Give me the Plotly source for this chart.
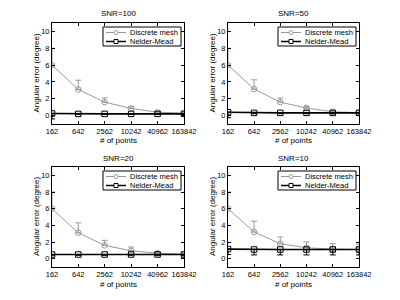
import math
import plotly.graph_objects as go

points = [162, 642, 2562, 10242, 40962, 163842]
tick_labels = ["162", "642", "2562", "10242", "40962", "163842"]
snr_titles = ["SNR=100", "SNR=50", "SNR=20", "SNR=10"]
series_names = ["Discrete mesh", "Nelder-Mead"]

dm_100 = [6.0, 3.1, 1.6, 0.85, 0.4, 0.3]
dm_100_err = [2.0, 1.1, 0.5, 0.2, 0.1, 0.05]
nm_100 = [0.25, 0.2, 0.2, 0.2, 0.2, 0.2]
nm_100_err = [0.65, 0.05, 0.05, 0.05, 0.05, 0.05]

dm_50 = [6.0, 3.15, 1.6, 0.9, 0.45, 0.35]
dm_50_err = [2.0, 1.1, 0.5, 0.2, 0.1, 0.05]
nm_50 = [0.4, 0.32, 0.32, 0.32, 0.32, 0.32]
nm_50_err = [0.65, 0.1, 0.1, 0.1, 0.1, 0.1]

dm_20 = [6.0, 3.1, 1.6, 0.95, 0.65, 0.55]
dm_20_err = [2.0, 1.2, 0.6, 0.45, 0.2, 0.1]
nm_20 = [0.5, 0.5, 0.5, 0.5, 0.5, 0.5]
nm_20_err = [0.1, 0.1, 0.1, 0.1, 0.1, 0.1]

dm_10 = [6.0, 3.2, 1.8, 1.3, 1.15, 1.1]
dm_10_err = [2.0, 1.3, 0.8, 0.7, 0.65, 0.65]
nm_10 = [1.15, 1.1, 1.1, 1.1, 1.1, 1.1]
nm_10_err = [0.65, 0.65, 0.65, 0.65, 0.65, 0.65]

panels = [
    (dm_100, dm_100_err, nm_100, nm_100_err),
    (dm_50, dm_50_err, nm_50, nm_50_err),
    (dm_20, dm_20_err, nm_20, nm_20_err),
    (dm_10, dm_10_err, nm_10, nm_10_err),
]

# The page body has an 8px margin; the figure is sized to fit inside it.
OFF = 8
W, H = 384, 284
# pixel boxes in window coordinates: (left, right, top, bottom)
boxes = [(52, 184, 23, 124), (228, 359, 23, 124), (52, 184, 167, 267), (228, 359, 167, 267)]

FONT = "Liberation Sans, Arial, sans-serif"
GRAY = "#9a9a9a"
COLORS = [GRAY, "black"]

fig = go.Figure()
layout = dict(
    width=W, height=H, margin=dict(l=0, r=0, t=0, b=0, autoexpand=False),
    paper_bgcolor="white", plot_bgcolor="white",
    font=dict(family=FONT, size=8, color="black"),
    annotations=[], shapes=[], showlegend=False,
)

def px(x):
    return (x - OFF) / W

def py(y):
    return 1 - (y - OFF) / H

for i, (dm, dme, nm, nme) in enumerate(panels):
    k = "" if i == 0 else str(i + 1)
    xa, ya = "x" + k, "y" + k
    l, r, t, b = boxes[i]
    fig.add_trace(go.Scatter(
        x=points, y=dm, xaxis=xa, yaxis=ya, name=series_names[0],
        mode="lines+markers", line=dict(color=GRAY, width=1),
        marker=dict(symbol="circle-open", size=5.5, color=GRAY, line=dict(width=1)),
        error_y=dict(type="data", array=dme, arrayminus=[0] * len(dme), symmetric=False,
                     color=GRAY, thickness=1, width=3),
    ))
    fig.add_trace(go.Scatter(
        x=points, y=nm, xaxis=xa, yaxis=ya, name=series_names[1],
        mode="lines+markers", line=dict(color="black", width=1.6),
        marker=dict(symbol="square-open", size=5.5, color="black", line=dict(width=1)),
        error_y=dict(type="data", array=[0] * len(nme), arrayminus=nme, symmetric=False,
                     color="black", thickness=1, width=3),
    ))
    axcommon = dict(showline=True, linecolor="black", linewidth=1, mirror="ticks",
                    ticks="inside", ticklen=3, tickcolor="black", showgrid=False,
                    zeroline=False, tickfont=dict(size=7.5, family=FONT), automargin=False)
    layout["xaxis" + k] = dict(
        domain=[px(l), px(r)], anchor=ya, type="log",
        range=[math.log10(points[0]), math.log10(points[-1])],
        tickvals=points, ticktext=tick_labels, tickangle=0, **axcommon)
    layout["yaxis" + k] = dict(
        domain=[py(b), py(t)], anchor=xa, range=[-1, 11],
        tickvals=[0, 2, 4, 6, 8, 10], tickangle=0, **axcommon)

    cx = (l + r) / 2
    layout["annotations"] += [
        dict(text=snr_titles[i], x=px(cx), y=py(t - 9), xref="paper", yref="paper",
             xanchor="center", yanchor="middle",
             showarrow=False, font=dict(size=8, family=FONT)),
        dict(text="# of points", x=px(cx), y=py(b + 17), xref="paper", yref="paper",
             xanchor="center", yanchor="middle",
             showarrow=False, font=dict(size=8, family=FONT)),
        dict(text="Angular error (degree)", x=px(l - 16), y=py((t + b) / 2),
             xref="paper", yref="paper", textangle=-90,
             xanchor="center", yanchor="middle",
             showarrow=False, font=dict(size=8, family=FONT)),
    ]

    # legend (drawn manually to match the compact box)
    lr, lt = r - 3, t + 4
    ll, lb = lr - 78, lt + 19
    layout["shapes"].append(dict(type="rect", xref="paper", yref="paper",
                                 x0=px(ll), x1=px(lr), y0=py(lb), y1=py(lt),
                                 line=dict(color="black", width=1), fillcolor="white",
                                 layer="above"))
    for j, name in enumerate(series_names):
        ry = lt + 5.5 + j * 9
        col = COLORS[j]
        layout["shapes"].append(dict(type="line", xref="paper", yref="paper",
                                     x0=px(ll + 3), x1=px(ll + 23), y0=py(ry), y1=py(ry),
                                     line=dict(color=col, width=1 if j == 0 else 1.5),
                                     layer="above"))
        layout["shapes"].append(dict(type="circle" if j == 0 else "rect",
                                     xref="paper", yref="paper",
                                     x0=px(ll + 11), x1=px(ll + 15),
                                     y0=py(ry + 2), y1=py(ry - 2),
                                     line=dict(color=col, width=1), fillcolor="white",
                                     layer="above"))
        layout["annotations"].append(dict(text=name, x=px(ll + 25), y=py(ry),
                                          xref="paper", yref="paper", xanchor="left",
                                          yanchor="middle", showarrow=False,
                                          font=dict(size=7.5, family=FONT)))

fig.update_layout(**layout)
fig.write_html("out.html")
